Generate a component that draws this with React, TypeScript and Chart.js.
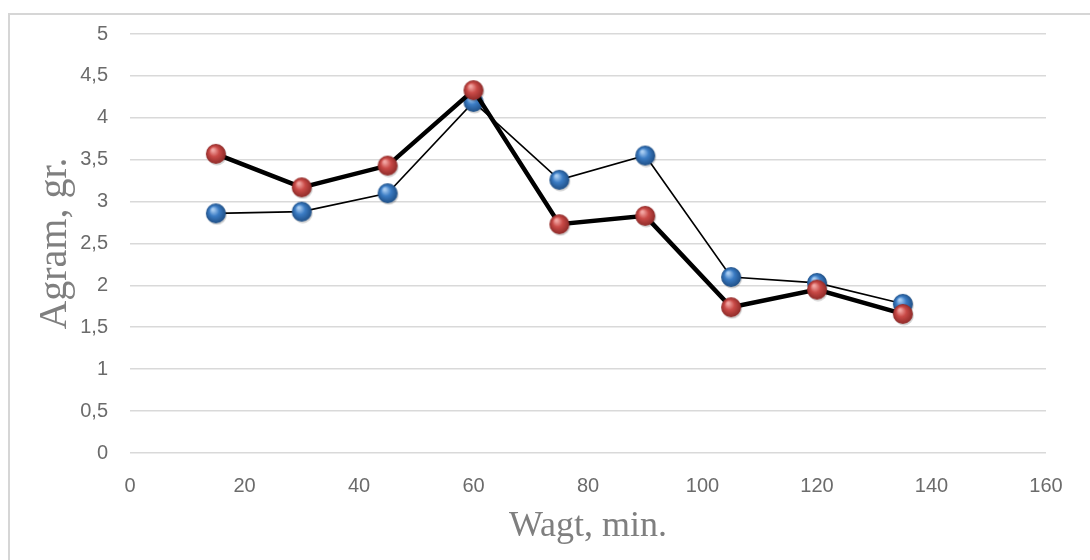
import React, { useEffect, useRef } from 'react';
import { Chart, registerables } from 'chart.js';

Chart.register(...registerables);

// Minutes on the x axis
const minutes = [15, 30, 45, 60, 75, 90, 105, 120, 135];
// Blue series (thin line)
const blueValues = [2.86, 2.88, 3.1, 4.19, 3.26, 3.55, 2.1, 2.03, 1.78];
// Red series (thick line)
const redValues = [3.57, 3.17, 3.43, 4.33, 2.73, 2.83, 1.74, 1.95, 1.66];

// Shiny ball marker drawn once on a small canvas, used as pointStyle
const makeBall = (base: string, light: string, dark: string) => {
  const size = 24;
  const c = document.createElement('canvas');
  c.width = size;
  c.height = size;
  const g = c.getContext('2d');
  if (!g) return c;
  const cx = size / 2;
  const cy = size / 2;
  const r = 10;
  // soft shadow
  g.fillStyle = 'rgba(0,0,0,0.18)';
  g.beginPath();
  g.arc(cx + 1, cy + 1.5, r, 0, Math.PI * 2);
  g.fill();
  const grad = g.createRadialGradient(cx - 3, cy - 4, 1, cx, cy, r);
  grad.addColorStop(0, light);
  grad.addColorStop(0.45, base);
  grad.addColorStop(1, dark);
  g.fillStyle = grad;
  g.beginPath();
  g.arc(cx, cy, r, 0, Math.PI * 2);
  g.fill();
  return c;
};

const tickFont = { family: "'Liberation Sans', Arial, sans-serif", size: 20 };
const serif = "'Liberation Serif', 'Times New Roman', serif";

const App: React.FC = () => {
  const chartRef = useRef<HTMLCanvasElement | null>(null);
  const chartInstance = useRef<Chart | null>(null);

  useEffect(() => {
    if (!chartRef.current) return;
    const ctx = chartRef.current.getContext('2d');
    if (!ctx) return;

    const redBall = makeBall('#c94a47', '#f2a6a3', '#8e2a28');
    const blueBall = makeBall('#3b7cc4', '#a9cdf2', '#1f4f86');

    chartInstance.current = new Chart(ctx, {
      type: 'line',
      data: {
        datasets: [
          {
            label: 'red',
            data: minutes.map((m, i) => ({ x: m, y: redValues[i] })),
            borderColor: '#000',
            borderWidth: 4.5,
            pointStyle: redBall,
            pointRadius: 10,
            tension: 0,
            order: 0,
          },
          {
            label: 'blue',
            data: minutes.map((m, i) => ({ x: m, y: blueValues[i] })),
            borderColor: '#000',
            borderWidth: 1.6,
            pointStyle: blueBall,
            pointRadius: 10,
            tension: 0,
            order: 1,
          },
        ],
      },
      options: {
        responsive: true,
        maintainAspectRatio: false,
        animation: false,
        layout: { padding: { left: 0, right: 44, top: 33, bottom: 0 } },
        plugins: {
          legend: { display: false },
          tooltip: { enabled: false },
        },
        scales: {
          x: {
            type: 'linear',
            min: 0,
            max: 160,
            ticks: { stepSize: 20, color: '#6b6b6b', font: tickFont, padding: 21 },
            grid: { display: false, drawTicks: false },
            border: { display: false },
            title: {
              display: true,
              text: 'Wagt, min.',
              color: '#7f7f7f',
              font: { family: serif, size: 36 },
              padding: { top: 0, bottom: 12 },
            },
            afterFit: (scale: any) => {
              scale.height = 107;
            },
          },
          y: {
            min: 0,
            max: 5,
            ticks: {
              stepSize: 0.5,
              color: '#6b6b6b',
              font: tickFont,
              padding: 22,
              callback: (v: any) => String(v).replace('.', ','),
            },
            grid: { color: '#d9d9d9', lineWidth: 1.6, drawTicks: false },
            border: { display: false },
            title: {
              display: true,
              text: 'Agram, gr.',
              color: '#7f7f7f',
              font: { family: serif, size: 40 },
              padding: { top: 31, bottom: 0 },
            },
            afterFit: (scale: any) => {
              scale.width = 130;
            },
          },
        },
      },
    });

    return () => {
      if (chartInstance.current) {
        chartInstance.current.destroy();
        chartInstance.current = null;
      }
    };
  }, []);

  return (
    <div style={{ position: 'fixed', left: 0, top: 0, width: 1090, height: 560, background: '#fff' }}>
      <div
        style={{
          position: 'absolute',
          left: 8,
          top: 13,
          right: 0,
          bottom: 0,
          borderLeft: '2px solid #d6d6d6',
          borderTop: '2px solid #d6d6d6',
        }}
      />
      <div style={{ position: 'absolute', left: 0, top: 0, width: 1090, height: 560 }}>
        <canvas ref={chartRef} />
      </div>
    </div>
  );
};

export default App;
